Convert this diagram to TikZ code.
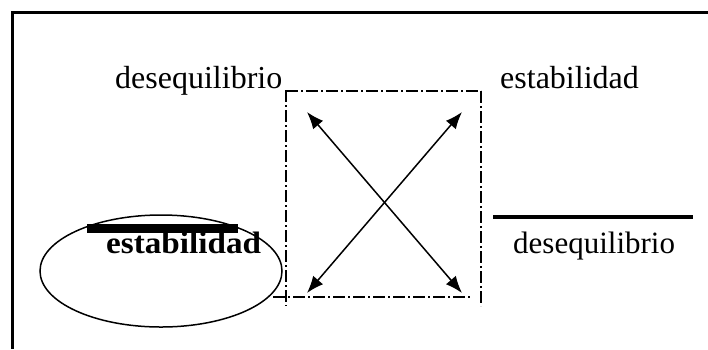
\documentclass[tikz,border=0pt]{standalone}
\usepackage{fontspec}
\setmainfont{Liberation Serif}
\usetikzlibrary{arrows.meta}
\begin{document}
\begin{tikzpicture}[x=1pt,y=-1pt,
  lbl/.style={inner sep=0pt,anchor=base west,font=\fontsize{32}{36}\selectfont},
  lblb/.style={inner sep=0pt,anchor=base west,font=\fontsize{31}{36}\selectfont},
  dashdot/.style={line width=1.6pt,dash pattern=on 12pt off 3pt on 2pt off 3pt},
  tip/.style={Latex[length=17pt,width=13pt]},
  dbl/.style={line width=1.5pt,{Latex[length=17pt,width=13pt]}-{Latex[length=17pt,width=13pt]}}]
\useasboundingbox (0,0) rectangle (708,349);
\fill[white] (0,0) rectangle (708,349);
% frame (top and left only visible)
\draw[line width=3pt] (708,12) -- (12,12) -- (12,349);
% texts
\node[lbl] (d1) at (115,88) {desequilibrio};
\node[lbl] (e1) at (500,88) {estabilidad};
\node[lblb] (d2) at (513,253) {desequilibrio};
% right bar
\draw[line width=4.5pt] (493,217) -- (693,217);
% ellipse
\draw[line width=1.5pt] (161,271) ellipse [x radius=121, y radius=56];
\draw[line width=9pt] (87,228) -- (238,228);
\node[lblb,font=\bfseries\fontsize{31}{36}\selectfont,xscale=1.07] (e2) at (106,253) {estabilidad};
% dash-dot box
\draw[dashdot] (286,90) -- (286,306);
\draw[dashdot] (286,91) -- (481,91);
\draw[dashdot] (481,91) -- (481,306);
\draw[dashdot] (273,297) -- (470,297);
% arrows
\coordinate (tl) at (307,112);
\coordinate (br) at (462,293);
\coordinate (tr) at (462,112);
\coordinate (bl) at (307,293);
\draw[dbl] (tl) -- (br);
\draw[dbl] (tr) -- (bl);
\end{tikzpicture}
\end{document}
